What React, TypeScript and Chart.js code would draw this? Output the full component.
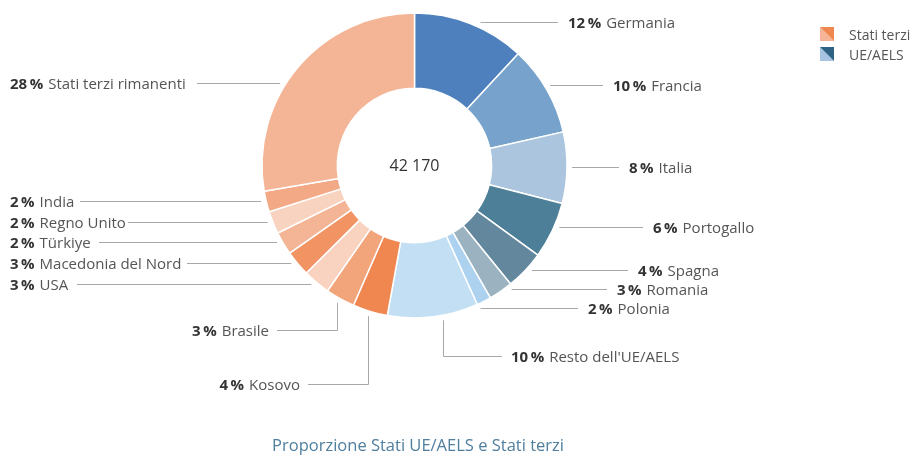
import React, { useEffect, useRef } from 'react';
import { Chart, registerables } from 'chart.js';

Chart.register(...registerables);

// ---- data ----
const categories = [
  'Germania',
  'Francia',
  'Italia',
  'Portogallo',
  'Spagna',
  'Romania',
  'Polonia',
  "Resto dell'UE/AELS",
  'Kosovo',
  'Brasile',
  'USA',
  'Macedonia del Nord',
  'Türkiye',
  'Regno Unito',
  'India',
  'Stati terzi rimanenti',
];
const values = [5020, 4030, 3180, 2530, 1750, 1080, 650, 4050, 1560, 1310, 1220, 1140, 1030, 1010, 930, 11680];
const groupNames = ['Stati terzi', 'UE/AELS'];
const totalLabel = '42 170';
const titleText = 'Proporzione Stati UE/AELS e Stati terzi';

// ---- styles ----
const sliceColors = [
  '#4D80BC', '#76A2CB', '#ABC5DE', '#4E7F98', '#63879D', '#9BB2C0', '#ADD2F0', '#C2DFF4',
  '#F18750', '#F2A47B', '#F9D3BF', '#F29363', '#F4B597', '#F8D3BF', '#F4A986', '#F4B597',
];
const legendColors = [
  { dark: '#F18750', light: '#F5B596' },
  { dark: '#2E6384', light: '#A6C4E2' },
];
const FONT = '"Open Sans", "Noto Sans", sans-serif';

// ---- label layout (positions of annotation labels) ----
type LL = { side: 'r' | 'l'; y: number; x: number; lineStart?: number; elbow?: number };
const labelLayout: LL[] = [
  { side: 'r', y: 22, x: 568 },
  { side: 'r', y: 85, x: 613 },
  { side: 'r', y: 167, x: 629 },
  { side: 'r', y: 227, x: 653 },
  { side: 'r', y: 270, x: 638 },
  { side: 'r', y: 289, x: 617 },
  { side: 'r', y: 308, x: 588 },
  { side: 'r', y: 356, x: 511, elbow: 443 },
  { side: 'l', y: 384, x: 300, elbow: 368 },
  { side: 'l', y: 330, x: 269, elbow: 337 },
  { side: 'l', y: 284, x: 10, lineStart: 77 },
  { side: 'l', y: 263, x: 10, lineStart: 187 },
  { side: 'l', y: 242, x: 10, lineStart: 99 },
  { side: 'l', y: 222, x: 10, lineStart: 128 },
  { side: 'l', y: 201, x: 10, lineStart: 80 },
  { side: 'l', y: 83, x: 10, lineStart: 197 },
];

const labelPlugin = {
  id: 'customLabels',
  afterDraw(chart: any) {
    const ctx: CanvasRenderingContext2D = chart.ctx;
    const meta = chart.getDatasetMeta(0);
    const arc: any = meta.data[0];
    const cx = arc.x;
    const cy = arc.y;
    const R = arc.outerRadius + 5;
    const total = values.reduce((a, b) => a + b, 0);
    ctx.save();
    ctx.lineWidth = 1;
    ctx.strokeStyle = '#A8A8A8';
    categories.forEach((name, i) => {
      const L = labelLayout[i];
      const pct = Math.round((values[i] / total) * 100) + '\u2009%';
      ctx.font = `bold 15px ${FONT}`;
      const wp = ctx.measureText(pct).width;
      ctx.font = `15px ${FONT}`;
      const wn = ctx.measureText(name).width;
      const gap = 5;
      const tw = wp + gap + wn;
      const y = Math.round(L.y) + 0.5;
      let tx = L.x;
      ctx.beginPath();
      if (L.elbow != null) {
        const ex = Math.round(L.elbow) + 0.5;
        const ey = cy + Math.sqrt(Math.max(R * R - (ex - cx) * (ex - cx), 0));
        ctx.moveTo(ex, ey);
        ctx.lineTo(ex, y);
        if (L.side === 'r') {
          ctx.lineTo(L.x - 9, y);
          tx = L.x;
        } else {
          ctx.lineTo(L.x + 8, y);
          tx = L.x - tw;
        }
      } else {
        const dx = Math.sqrt(Math.max(R * R - (y - cy) * (y - cy), 0));
        if (L.side === 'r') {
          ctx.moveTo(cx + dx, y);
          ctx.lineTo(L.x - 10, y);
        } else {
          ctx.moveTo(L.lineStart as number, y);
          ctx.lineTo(cx - dx, y);
        }
        tx = L.x;
      }
      ctx.stroke();
      ctx.textBaseline = 'alphabetic';
      ctx.textAlign = 'left';
      ctx.font = `bold 15px ${FONT}`;
      ctx.fillStyle = '#333333';
      ctx.fillText(pct, tx, L.y + 5.5);
      ctx.font = `15px ${FONT}`;
      ctx.fillStyle = '#555555';
      ctx.fillText(name, tx + wp + gap, L.y + 5.5);
    });

    // center total
    ctx.font = `16px ${FONT}`;
    ctx.fillStyle = '#333333';
    ctx.textAlign = 'center';
    ctx.fillText(totalLabel, cx, cy + 5);

    // legend
    const lx = 820;
    const ly = [27, 47];
    groupNames.forEach((g, i) => {
      const c = legendColors[i];
      const y0 = ly[i];
      const s = 14;
      ctx.beginPath();
      ctx.moveTo(lx, y0);
      ctx.lineTo(lx, y0 + s);
      ctx.lineTo(lx + s, y0 + s);
      ctx.closePath();
      ctx.fillStyle = c.light;
      ctx.fill();
      ctx.beginPath();
      ctx.moveTo(lx, y0);
      ctx.lineTo(lx + s, y0);
      ctx.lineTo(lx + s, y0 + s);
      ctx.closePath();
      ctx.fillStyle = c.dark;
      ctx.fill();
      ctx.font = `14px ${FONT}`;
      ctx.fillStyle = '#555555';
      ctx.textAlign = 'left';
      ctx.fillText(g, 849, y0 + 12.5);
    });

    // bottom title
    ctx.font = `16.5px ${FONT}`;
    ctx.fillStyle = '#4F7E9E';
    ctx.textAlign = 'center';
    ctx.fillText(titleText, 418, 450.5);
    ctx.restore();
  },
};

export default function App() {
  const ref = useRef<HTMLCanvasElement | null>(null);
  useEffect(() => {
    if (!ref.current) return;
    const chart = new Chart(ref.current, {
      type: 'doughnut',
      data: {
        labels: categories,
        datasets: [
          {
            data: values,
            backgroundColor: sliceColors,
            borderColor: '#FFFFFF',
            borderWidth: 1.5,
          },
        ],
      },
      options: {
        responsive: false,
        animation: false,
        radius: 152.5,
        cutout: '50.6%',
        layout: { padding: { left: 262, right: 347, top: 13, bottom: 138 } },
        plugins: {
          legend: { display: false },
          tooltip: { enabled: false },
          title: { display: false },
        },
      } as any,
      plugins: [labelPlugin],
    });
    return () => chart.destroy();
  }, []);
  return (
    <div style={{ position: 'absolute', left: 0, top: 0, width: 914, height: 456, background: '#fff' }}>
      <canvas ref={ref} width={914} height={456} style={{ display: 'block', width: 914, height: 456 }} />
    </div>
  );
}
